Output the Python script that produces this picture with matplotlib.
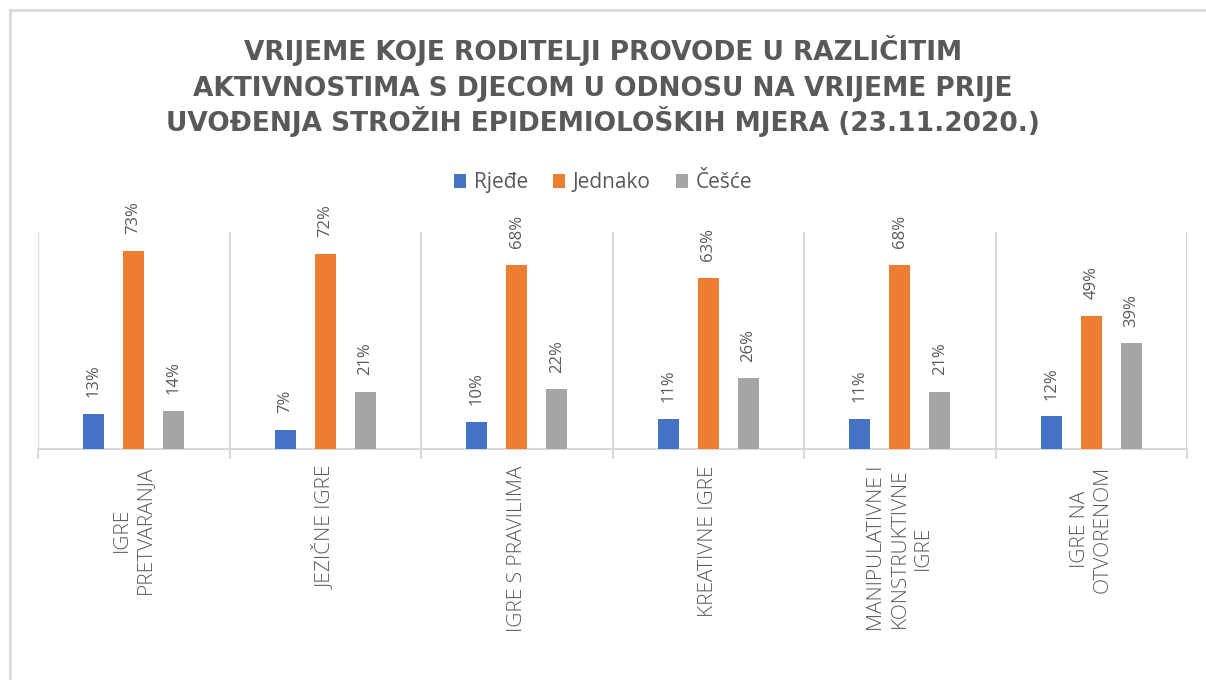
import numpy as np
import matplotlib
matplotlib.use('Agg')
import matplotlib.pyplot as plt
from matplotlib.lines import Line2D

categories = ['IGRE\nPRETVARANJA', 'JEZIČNE IGRE', 'IGRE S PRAVILIMA', 'KREATIVNE IGRE',
              'MANIPULATIVNE I\nKONSTRUKTIVNE\nIGRE', 'IGRE NA\nOTVORENOM']
series_names = ['Rjeđe', 'Jednako', 'Češće']
rjede = [13, 7, 10, 11, 11, 12]
jednako = [73, 72, 68, 63, 68, 49]
cesce = [14, 21, 22, 26, 21, 39]
colors = ['#4472C4', '#ED7D31', '#A5A5A5']

title_lines = ['VRIJEME KOJE RODITELJI PROVODE U RAZLIČITIM',
               'AKTIVNOSTIMA S DJECOM U ODNOSU NA VRIJEME PRIJE',
               'UVOĐENJA STROŽIH EPIDEMIOLOŠKIH MJERA (23.11.2020.)']

plt.rcParams['font.family'] = ['Open Sans', 'DejaVu Sans']
text_c = '#595959'
grid_c = '#D9D9D9'

fig = plt.figure(figsize=(12.06, 6.8), dpi=100)
ax = fig.add_axes([38 / 1206, 1 - 449 / 680, (1187 - 38) / 1206, (449 - 232) / 680])

x = np.arange(len(categories))
step = 0.209
width = 0.11
for i, (vals, name, col) in enumerate(zip([rjede, jednako, cesce], series_names, colors)):
    pos = x + (i - 1) * step
    bars = ax.bar(pos, vals, width=width, color=col, label=name, zorder=3)
    for b, v in zip(bars, vals):
        ax.annotate(f'{v}%', (b.get_x() + b.get_width() / 2, v), xytext=(0, 12),
                    textcoords='offset points', rotation=90, ha='center', va='bottom',
                    fontsize=12, color=text_c)

ax.set_xlim(-0.5, len(categories) - 0.5)
ax.set_ylim(0, 80)
ax.set_yticks([])
ax.set_xticks(x)
ax.set_xticklabels(categories, rotation=90, fontsize=15, color=text_c, fontweight='light',
                   va='top', ha='center', multialignment='center', linespacing=1.2)
ax.tick_params(axis='x', which='major', length=0, pad=12)
ax.set_xticks(np.arange(-0.5, len(categories)), minor=True)
ax.tick_params(axis='x', which='minor', length=7, color=grid_c, width=1.5)
ax.grid(axis='x', which='minor', color=grid_c, lw=1.5, zorder=0)
for s in ['top', 'left', 'right']:
    ax.spines[s].set_visible(False)
ax.spines['bottom'].set_color(grid_c)
ax.spines['bottom'].set_linewidth(1.5)

# title, one line at a time so the spacing stays even
for k, line in enumerate(title_lines):
    fig.text(0.5, 1 - (60 + 35.5 * k) / 680, line, ha='center', va='baseline', fontsize=19,
             fontweight='bold', color=text_c, family='DejaVu Sans')

fig.legend(loc='center', bbox_to_anchor=(0.5, 1 - 183 / 680), ncol=3, frameon=False,
           fontsize=15, labelcolor=text_c, handlelength=0.6, handleheight=0.65,
           handletextpad=0.35, columnspacing=1.2)

# chart frame (left and top edges visible)
fig.add_artist(Line2D([10 / 1206, 10 / 1206], [0, 1 - 10 / 680], transform=fig.transFigure,
                      color=grid_c, lw=2))
fig.add_artist(Line2D([10 / 1206, 1], [1 - 10 / 680, 1 - 10 / 680], transform=fig.transFigure,
                      color=grid_c, lw=2))

fig.savefig('out.png', dpi=100)
